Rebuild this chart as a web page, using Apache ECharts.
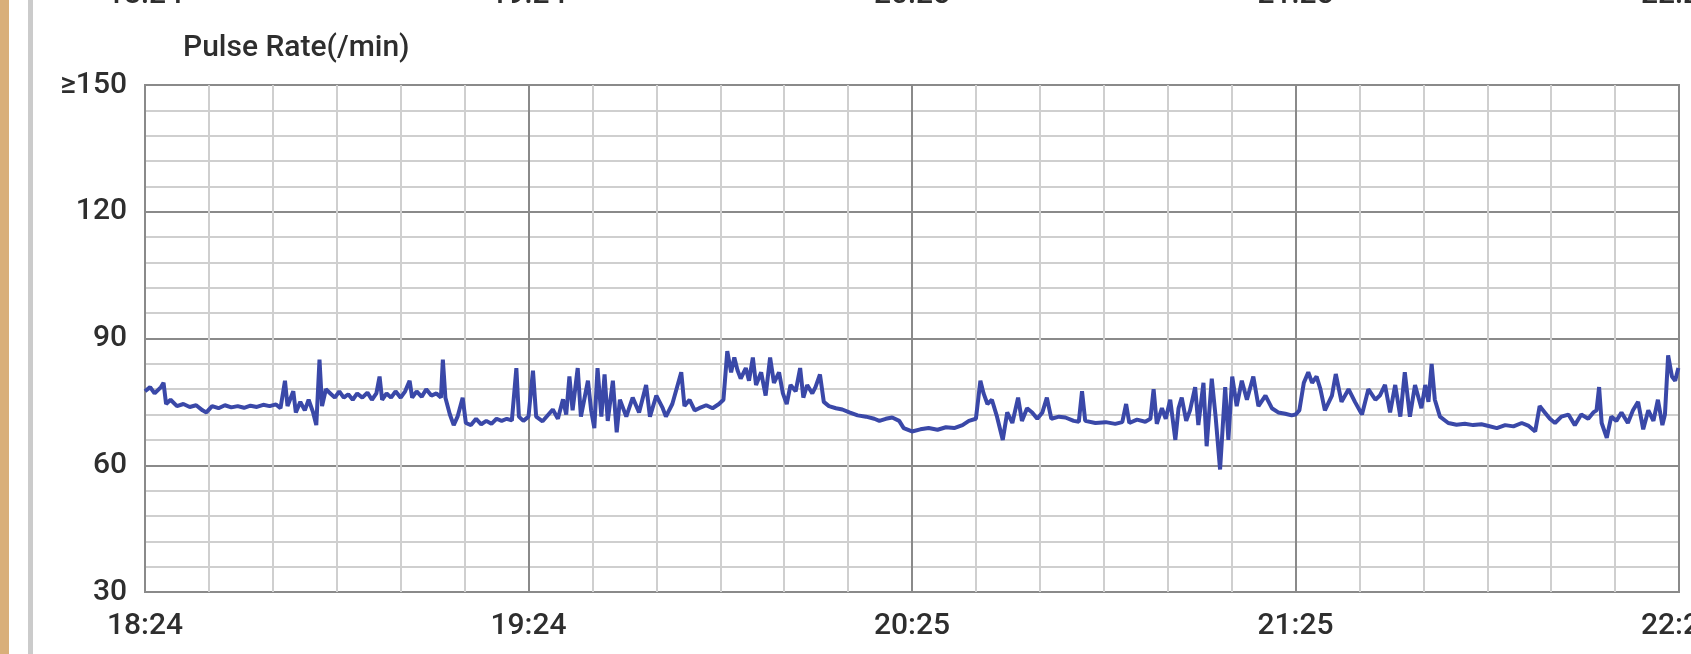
<!DOCTYPE html>
<html>
<head>
<meta charset="utf-8">
<script src="https://cdn.jsdelivr.net/npm/echarts@6/dist/echarts.min.js"></script>
<style>
html,body{margin:0;padding:0;background:#fff;}
#c{width:1691px;height:654px;}
</style>
</head>
<body>
<div id="c"></div>
<script>
// minutes after 18:24
var times = [
0,0.8,1.5,2.5,2.9,3.3,4,5,6,7,8,9,9.6,10.5,11.5,12.5,13.5,14.5,15.5,16.5,17.5,18.5,19.5,20.5,21.2,21.9,22.3,23.2,23.6,24.3,25,25.6,26.3,26.8,27.3,27.7,28.3,29,29.7,30.4,31.1,31.8,32.5,33.2,34,34.8,35.5,36.2,36.7,37.1,37.8,38.5,39.2,40,40.7,41.4,41.8,42.5,43.3,44,44.8,45.6,46.3,46.6,47,47.7,48.3,48.9,49.7,50.2,51,51.8,52.6,53.4,54.2,55,55.8,56.6,57.4,58.1,58.5,59.2,60,
60.7,61.2,62.2,63.8,64.6,65.4,65.9,66.4,66.9,67.7,68.2,69.3,69.8,70.3,70.8,71.4,71.9,72.4,73.2,73.8,74.3,75.3,76.3,77.3,78.4,79,80,81,81.5,82.5,83.9,84.4,85.2,86,86.7,87.8,88.8,89.8,90.5,91.1,91.7,92.2,92.7,93.2,94,94.5,95.1,95.6,96.4,97.1,97.8,98.4,99.2,99.8,100.4,101,101.8,102.5,103,103.6,104.4,104.9,105.6,106.2,107,108.1,109.1,110.2,111.5,112.8,114.1,114.9,115.9,116.9,118,118.7,120,121.3,122.6,124,125.3,126.6,127.9,128.9,130,130.7,131.2,131.8,132.5,133.3,134.2,134.9,135.7,136.6,137.2,138,138.8,139.6,140.4,141.1,141.8,143,144,145.3,146.1,146.6,147.1,148.7,150.3,151.8,152.9,153.5,154,155.2,156.5,157.3,157.8,158.3,159.1,159.7,160.4,161.2,161.7,162.2,162.9,163.5,164.3,164.8,165.6,166.1,166.9,167.5,168.2,169,169.5,170.1,170.8,171.6,172.4,173.4,174.2,175.3,176.3,177.3,178.4,179.4,
180,180.6,181.3,182,182.6,183.3,183.9,184.6,185.7,186.3,187.2,188.3,189.3,190.4,191.4,192.5,193.2,194,194.8,195.6,196.4,197.1,197.9,198.7,199.7,200.3,200.8,201.3,201.8,202.6,203.9,205.2,206.5,207.8,209.1,210.2,211.5,212.8,214.1,215.4,216.4,217.5,218.2,219,219.8,220.6,221.6,222.7,223.7,224.7,225.8,226.6,227.1,227.5,227.9,228.7,229.4,230.2,231,232,232.8,233.6,234.4,235.2,236,236.7,237.4,237.8,238.3,238.9,239.4,239.9
];
var pulse = [
77.5,78.5,77,78.5,79.5,74.5,75.5,74,74.5,73.8,74.2,73,72.5,74,73.5,74.2,73.7,74,73.6,74.1,73.8,74.3,74,74.4,73.5,80,74,77.5,72.5,75,73,75.5,72.5,69.5,85,74,78,77,76,77.5,76,76.8,75.5,77,76,77.2,75.5,77,81,75.5,77,76,77.5,76,77.5,80,76,77.5,76.2,78,76.5,77,76,85,76,72,69.5,71.5,76,70,69.5,71,69.7,70.5,69.8,71,70.5,71,70.6,83,71.5,70.5,71.5,
82.4,71.5,70.4,73.2,71,75.6,72,81,73,83,71.5,80,73,68.8,83,71.5,81.5,70.5,80,67.8,75.5,71.5,76,72.5,79,71.5,76.5,73.5,71.5,74.5,82,74,75.5,73,73.5,74.2,73.5,74.5,75.5,87,82,85.5,82.5,80.5,83,80,85.5,79,82,76.5,85.5,79.5,82,77,74.5,79,77.5,83,76,79,77,78.5,81.5,75,74,73.5,73.2,72.5,71.8,71.5,71,70.5,71,71.3,70.5,68.8,68,68.5,68.8,68.4,69,68.8,69.5,70.5,71,80,77,74.5,75.5,71.5,66,72.5,70,76,70.5,73.5,72.5,71,72.5,76,71,71.5,71.3,70.5,70.3,77.5,70.5,70,70.2,69.8,70.2,74.5,70,70.8,70.3,71,78,69.8,73.5,71,75.5,66,73.5,76,70.5,73,78.5,69.5,79.5,64.5,80.5,71.5,59,78.5,66,81,74,80,75.5,81,74,76.5,73.5,72.5,72.2,71.8,72,
73,79.5,82,79.5,81,78,73,76.5,81.6,75,78,75,72,78,75.5,76.5,79,72.5,79,71.5,82,71.5,79,73.5,79,75,84,75.5,71.5,70,69.6,69.8,69.5,69.7,69.3,68.8,69.5,69.2,70,69.4,68,74,72.5,71,70,71.5,72,69.5,72,71,72.5,73,78.5,70,66.5,71.5,70.5,72.5,70,73,75,68.5,73,70.5,75.5,69.5,72,86,81,80,83,82
];
var xTickLabels = ['18:24', '19:24', '20:25', '21:25', '22:25'];
var yTickLabels = {30: '30', 60: '60', 90: '90', 120: '120', 150: '\u2265150'};
var titleText = 'Pulse Rate(/min)';

var seriesData = times.map(function (t, i) { return [t, pulse[i]]; });

var chart = echarts.init(document.getElementById('c'), null, {renderer: 'canvas'});
var FONT = 'Roboto, "Noto Sans", sans-serif';
var TXT = '#2e2e2e';
var topGhost = xTickLabels.map(function (s, i) {
  return {
    type: 'text', x: 145 + i * 383.5, y: 10, silent: true,
    style: {text: s, font: '500 30px ' + FONT, fill: TXT, align: 'center', verticalAlign: 'bottom'}
  };
});
chart.setOption({
  backgroundColor: '#ffffff',
  animation: false,
  title: {
    text: titleText, left: 183, top: 33, padding: 0,
    textStyle: {fontFamily: FONT, fontSize: 30, fontWeight: 500, color: TXT}
  },
  graphic: [
    {type: 'rect', shape: {x: 0, y: 0, width: 9, height: 654}, style: {fill: '#d9af7a'}, silent: true},
    {type: 'rect', shape: {x: 28, y: 0, width: 5, height: 654}, style: {fill: '#cbcbcb'}, silent: true}
  ].concat(topGhost),
  grid: {
    left: 145, right: 12, top: 85, bottom: 62, containLabel: false, outerBoundsMode: 'none',
    show: true, borderColor: '#8a8a8a', borderWidth: 2, backgroundColor: 'transparent'
  },
  xAxis: {
    type: 'value', min: 0, max: 240, interval: 60,
    axisLine: {show: false}, axisTick: {show: false},
    axisLabel: {
      margin: 19, fontFamily: FONT, fontSize: 30, fontWeight: 500, color: TXT, showMaxLabel: true, showMinLabel: true,
      alignMinLabel: 'center', alignMaxLabel: 'center', hideOverlap: false,
      formatter: function (v) { return xTickLabels[Math.round(v / 60)] || ''; }
    },
    splitLine: {show: true, lineStyle: {color: '#8a8a8a', width: 2}},
    minorTick: {show: false, splitNumber: 6},
    minorSplitLine: {show: true, lineStyle: {color: '#cfcfcf', width: 2}}
  },
  yAxis: {
    type: 'value', min: 30, max: 150, interval: 30,
    axisLine: {show: false}, axisTick: {show: false},
    axisLabel: {
      margin: 18, fontFamily: FONT, fontSize: 30, fontWeight: 500, color: TXT,
      formatter: function (v) { return yTickLabels[v] || ''; }
    },
    splitLine: {show: true, lineStyle: {color: '#8a8a8a', width: 2}},
    minorTick: {show: false, splitNumber: 5},
    minorSplitLine: {show: true, lineStyle: {color: '#cfcfcf', width: 2}}
  },
  series: [{
    type: 'line', data: seriesData, showSymbol: false, symbol: 'none',
    lineStyle: {color: '#3a48a8', width: 4}, smooth: false
  }]
});
</script>
</body>
</html>
